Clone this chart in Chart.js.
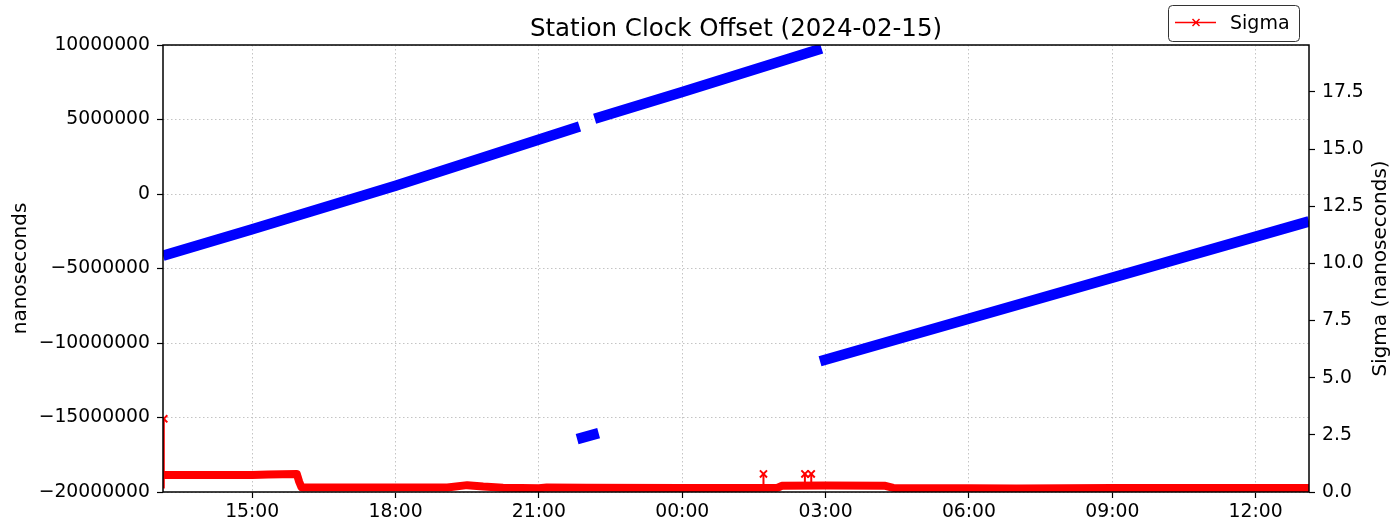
<!DOCTYPE html>
<html>
<head>
<meta charset="utf-8">
<title>Station Clock Offset</title>
<script src="https://cdn.jsdelivr.net/npm/chart.js@4.4.1/dist/chart.umd.min.js"></script>
<style>
    html, body { margin: 0; padding: 0; background: #fff; }
    #wrap { position: relative; width: 1394px; height: 529px; }
</style>
</head>
<body>
<div id="wrap"><canvas id="clockChart"></canvas></div>
<script>
// Clock offset (left axis, ns). Times are 'DD HH:MM', a null value breaks the line.
const offsetTimes = [
    '15 13:08', '15 15:00', '15 18:00', '15 21:51', '15 21:51',
    '15 21:48', '15 22:15', '15 22:15',
    '15 22:10', '16 00:00', '16 02:55', '16 02:55',
    '16 02:53', '16 13:07'
];
const offsetValues = [
    -4150000, -2360000, 560000, 4530000, null,
    -16450000, -16050000, null,
    5050000, 6850000, 9760000, null,
    -11220000, -1840000
];

// Sigma (right axis, ns)
const sigmaTimes = [
    '15 13:08', '15 14:00', '15 15:00', '15 15:20', '15 15:56', '15 15:59', '15 16:02',
    '15 17:00', '15 18:00', '15 19:05', '15 19:30', '15 19:50', '15 20:15', '15 21:00',
    '15 21:10', '15 22:00', '16 00:00', '16 01:00', '16 02:00', '16 02:05', '16 03:00',
    '16 04:15', '16 04:25', '16 06:00', '16 07:00', '16 09:00', '16 12:00', '16 13:07'
];
const sigmaValues = [
    0.74, 0.74, 0.74, 0.76, 0.79, 0.45, 0.2,
    0.2, 0.2, 0.2, 0.3, 0.24, 0.19, 0.16,
    0.2, 0.19, 0.18, 0.18, 0.19, 0.27, 0.28,
    0.27, 0.18, 0.16, 0.15, 0.17, 0.17, 0.17
];

// single sigma outliers
const spikeTimes = ['15 13:09', '15 13:09', '15 13:09', '16 01:42', '16 01:42', '16 01:42', '16 02:34', '16 02:34', '16 02:34', '16 02:42', '16 02:42'];
const spikeValues = [0.15, 3.2, null, 0.2, 0.79, null, 0.25, 0.79, null, 0.25, 0.79];

const xStart = '15 13:08';
const xEnd = '16 13:07';
const xTickHours = [15, 18, 21, 24, 27, 30, 33, 36];
const offsetTicks = [-20000000, -15000000, -10000000, -5000000, 0, 5000000, 10000000];
const sigmaTicks = [0, 2.5, 5, 7.5, 10, 12.5, 15, 17.5];
const sigmaMax = 19.55;

// 'DD HH:MM' -> hours since 2024-02-15 00:00
function toHours(s) {
    const parts = s.split(' ');
    const hm = parts[1].split(':').map(Number);
    return (Number(parts[0]) - 15) * 24 + hm[0] + hm[1] / 60;
}

function toPoints(times, values) {
    return times.map((t, i) => ({ x: toHours(t), y: values[i] }));
}

function fmtOffset(v) {
    return v < 0 ? '\u2212' + Math.abs(v) : String(v);
}

Chart.defaults.font.family = '"DejaVu Sans", sans-serif';
Chart.defaults.color = '#000';

const tickFont = { size: 18.8 };
const gridColor = '#c4c4c4';
const dotted = [1.5, 2.5];

// title over the plot area, frame, right axis label and the legend box
const extras = {
    id: 'extras',
    afterDatasetsDraw(chart) {
        const ctx = chart.ctx;
        const a = chart.chartArea;
        ctx.save();
        ctx.strokeStyle = '#000';
        ctx.lineWidth = 1.5;
        ctx.strokeRect(a.left, a.top, a.right - a.left, a.bottom - a.top);
        ctx.restore();
    },
    afterDraw(chart) {
        const ctx = chart.ctx;
        const a = chart.chartArea;

        ctx.save();
        ctx.fillStyle = '#000';
        ctx.font = '24.5px "DejaVu Sans"';
        ctx.textAlign = 'center';
        ctx.textBaseline = 'alphabetic';
        ctx.fillText('Station Clock Offset (2024-02-15)', (a.left + a.right) / 2, 36);
        ctx.restore();

        ctx.save();
        ctx.fillStyle = '#000';
        ctx.font = '20px "DejaVu Sans"';
        ctx.textAlign = 'center';
        ctx.textBaseline = 'middle';
        ctx.translate(1381, (a.top + a.bottom) / 2);
        ctx.rotate(-Math.PI / 2);
        ctx.fillText('Sigma (nanoseconds)', 0, 0);
        ctx.restore();

        // legend
        ctx.save();
        ctx.beginPath();
        ctx.roundRect(1168.5, 5.5, 131, 36, 4);
        ctx.fillStyle = '#fff';
        ctx.fill();
        ctx.strokeStyle = '#333';
        ctx.lineWidth = 1;
        ctx.stroke();
        ctx.strokeStyle = '#ff0000';
        ctx.lineWidth = 1.5;
        ctx.beginPath();
        ctx.moveTo(1175, 22.5);
        ctx.lineTo(1216, 22.5);
        ctx.moveTo(1192.5, 19);
        ctx.lineTo(1199.5, 26);
        ctx.moveTo(1199.5, 19);
        ctx.lineTo(1192.5, 26);
        ctx.stroke();
        ctx.fillStyle = '#000';
        ctx.font = '19px "DejaVu Sans"';
        ctx.textBaseline = 'middle';
        ctx.fillText('Sigma', 1230, 24);
        ctx.restore();
    }
};

const ctx = document.getElementById('clockChart');
const chart = new Chart(ctx, {
    type: 'line',
    data: {
        datasets: [
            {
                label: 'Offset',
                data: toPoints(offsetTimes, offsetValues),
                yAxisID: 'y',
                borderColor: '#0000ff',
                borderWidth: 10.5,
                borderCapStyle: 'butt',
                pointRadius: 0,
                spanGaps: false
            },
            {
                label: 'Sigma',
                data: toPoints(sigmaTimes, sigmaValues),
                yAxisID: 'y2',
                borderColor: '#ff0000',
                borderWidth: 8,
                borderJoinStyle: 'round',
                pointRadius: 0
            },
            {
                label: 'Sigma outliers',
                data: toPoints(spikeTimes, spikeValues),
                yAxisID: 'y2',
                borderColor: '#ff0000',
                borderWidth: 2,
                pointStyle: 'crossRot',
                pointRadius: c => (c.raw && c.raw.y > 0.5 ? 5 : 0),
                pointBorderColor: '#ff0000',
                pointBorderWidth: 2,
                spanGaps: false
            }
        ]
    },
    options: {
        responsive: true,
        maintainAspectRatio: false,
        animation: false,
        layout: { padding: { top: 45 } },
        plugins: {
            legend: { display: false },
            tooltip: { enabled: false },
            title: { display: false }
        },
        scales: {
            x: {
                type: 'linear',
                min: toHours(xStart),
                max: toHours(xEnd),
                afterBuildTicks: s => { s.ticks = xTickHours.map(v => ({ value: v })); },
                afterFit: s => { s.height = 37; },
                ticks: {
                    autoSkip: false,
                    maxRotation: 0,
                    padding: 3,
                    font: tickFont,
                    callback: v => String(v % 24).padStart(2, '0') + ':00'
                },
                grid: { color: gridColor, lineWidth: 1, tickLength: 6, tickColor: '#000', tickWidth: 1.2 },
                border: { display: false, dash: dotted }
            },
            y: {
                position: 'left',
                min: -20000000,
                max: 10000000,
                afterBuildTicks: s => { s.ticks = offsetTicks.map(v => ({ value: v })); },
                afterFit: s => { s.width = 163; },
                ticks: { padding: 7, font: tickFont, callback: v => fmtOffset(v) },
                title: {
                    display: true,
                    text: 'nanoseconds',
                    font: { size: 20 },
                    padding: { top: 9, bottom: 0 }
                },
                grid: { color: gridColor, lineWidth: 1, tickLength: 6, tickColor: '#000', tickWidth: 1.2 },
                border: { display: false, dash: dotted }
            },
            y2: {
                position: 'right',
                min: 0,
                max: sigmaMax,
                afterBuildTicks: s => { s.ticks = sigmaTicks.map(v => ({ value: v })); },
                afterFit: s => { s.width = 85; },
                ticks: { padding: 7, font: tickFont, callback: v => v.toFixed(1) },
                grid: { drawOnChartArea: false, tickLength: 6, tickColor: '#000', tickWidth: 1.2 },
                border: { display: false }
            }
        }
    },
    plugins: [extras]
});
</script>
</body>
</html>
